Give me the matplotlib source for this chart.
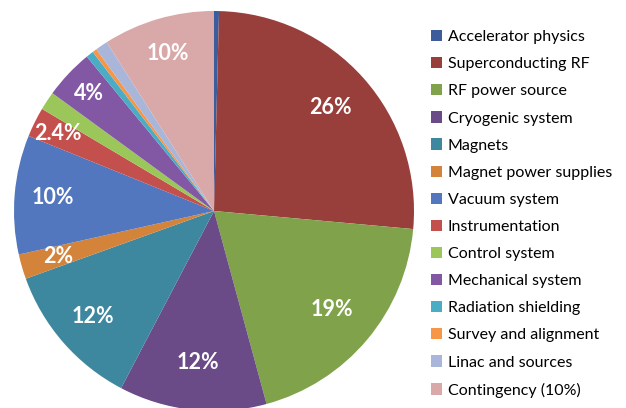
import matplotlib
matplotlib.use("Agg")
import matplotlib.pyplot as plt
from matplotlib.patches import Patch
import numpy as np

categories = ["Accelerator physics", "Superconducting RF", "RF power source", "Cryogenic system",
              "Magnets", "Magnet power supplies", "Vacuum system", "Instrumentation",
              "Control system", "Mechanical system", "Radiation shielding", "Survey and alignment",
              "Linac and sources", "Contingency (10%)"]
values = [0.4, 26.0, 19.3, 11.9, 11.8, 2.0, 9.6, 2.4, 1.5, 4.0, 0.6, 0.35, 1.0, 9.0]
slice_labels = ["", "26%", "19%", "12%", "12%", "2%", "10%", "2.4%", "", "4%", "", "", "", "10%"]
colors = ["#3D5C9C", "#983F3C", "#7FA24A", "#6A4A87", "#3E889F", "#D4843A", "#5277BE",
          "#C4504D", "#9BC75A", "#8258A4", "#4BACC6", "#F79646", "#A9B6D9", "#D8A9A8"]

plt.rcParams['font.family'] = ['Lato', 'DejaVu Sans']

fig = plt.figure(figsize=(6.26, 4.08), dpi=100)
W, H = 626, 408
cx, cy, r = 214, 211, 200
ax = fig.add_axes([(cx - r) / W, (H - cy - r) / H, 2 * r / W, 2 * r / H])
wedges, _ = ax.pie(values, colors=colors, startangle=90, counterclock=False, radius=1,
                   wedgeprops=dict(linewidth=0))
ax.set_xlim(-1, 1)
ax.set_ylim(-1, 1)
ax.set_aspect('equal')
ax.axis('off')

label_r = [0, 0.78, 0.77, 0.76, 0.80, 0.81, 0.81, 0.87, 0, 0.86, 0, 0, 0, 0.82]
for w, lab, lr in zip(wedges, slice_labels, label_r):
    if not lab:
        continue
    ang = np.deg2rad((w.theta1 + w.theta2) / 2)
    ax.text(lr * np.cos(ang), lr * np.sin(ang), lab, ha='center', va='center',
            color='white', fontsize=15.5, fontweight='bold')

handles = [Patch(facecolor=c, edgecolor='none') for c in colors]
fig.legend(handles, categories, loc='upper left', bbox_to_anchor=(431 / W, 1 - 30 / H),
           frameon=False, fontsize=11.5, handlelength=0.7, handleheight=0.7,
           handletextpad=0.35, labelspacing=0.81, borderaxespad=0, borderpad=0)

fig.savefig("out.png", dpi=100)
